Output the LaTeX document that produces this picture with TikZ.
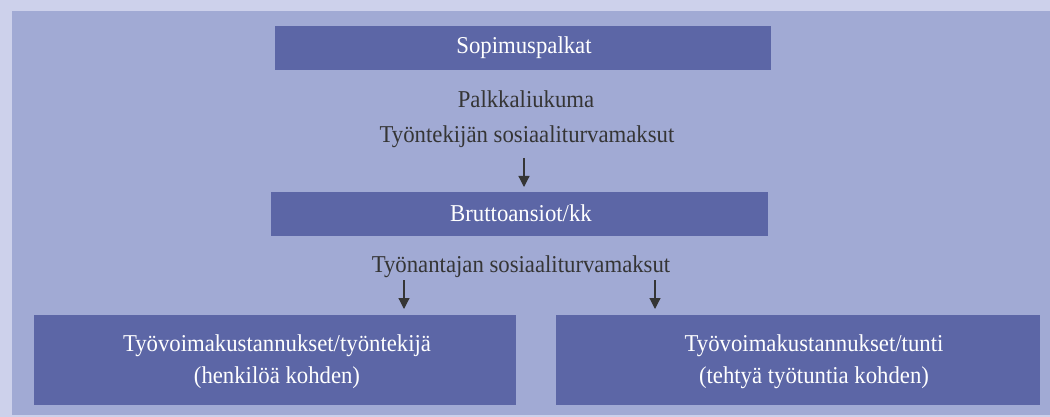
\documentclass[tikz,border=0pt]{standalone}
\usepackage{fontspec}
\setmainfont{Liberation Serif}[FakeStretch=0.94]
\usetikzlibrary{arrows.meta}
\definecolor{frame}{HTML}{CDD1EB}
\definecolor{panel}{HTML}{A1AAD4}
\definecolor{boxfill}{HTML}{5C66A6}
\definecolor{ink}{HTML}{353535}
\begin{document}
\begin{tikzpicture}[x=1pt,y=-1pt,
  every node/.style={font=\fontsize{24.2}{32}\selectfont, inner sep=0pt},
  bar/.style={fill=boxfill, draw=none, text=white, anchor=north west},
  plain/.style={text=ink, anchor=base},
  arr/.style={draw=ink, line width=1.2pt, -{Triangle[width=11pt,length=11pt]}}]
  % background and panel
  \fill[frame] (0,0) rectangle (1050,417);
  \fill[panel] (12,11) rectangle (1050,415);
  \useasboundingbox (0,0) rectangle (1050,417);

  % boxes
  \node[bar, minimum width=496pt, minimum height=44pt] (sop) at (275,26) {};
  \node[text=white, anchor=base] (soptxt) at (524,54) {Sopimuspalkat};

  \node[bar, minimum width=497pt, minimum height=44pt] (brutto) at (271,192) {};
  \node[text=white, anchor=base] (bruttotxt) at (521,222) {Bruttoansiot/kk};

  % two-line labels: the base anchor sits on the last line
  \node[bar, minimum width=482pt, minimum height=90pt] (lbox) at (34,315) {};
  \node[text=white, align=center, anchor=base] (ltxt) at (277,383) {Työvoimakustannukset/työntekijä\\(henkilöä kohden)};

  \node[bar, minimum width=484pt, minimum height=90pt] (rbox) at (556,315) {};
  \node[text=white, align=center, anchor=base] (rtxt) at (814,383) {Työvoimakustannukset/tunti\\(tehtyä työtuntia kohden)};

  % plain labels
  \node[plain] (palkka) at (526,108) {Palkkaliukuma};
  \node[plain] (tyontek) at (527,143) {Työntekijän sosiaaliturvamaksut};
  \node[plain] (tyonant) at (521,272) {Työnantajan sosiaaliturvamaksut};

  % arrows
  \coordinate (a0) at (524,158);
  \coordinate (a1) at (404,280);
  \coordinate (a2) at (655,280);
  \draw[arr, shorten >=5pt] (a0) -- (a0 |- brutto.north);
  \draw[arr, shorten >=6pt] (a1) -- (a1 |- lbox.north);
  \draw[arr, shorten >=6pt] (a2) -- (a2 |- rbox.north);
\end{tikzpicture}
\end{document}
